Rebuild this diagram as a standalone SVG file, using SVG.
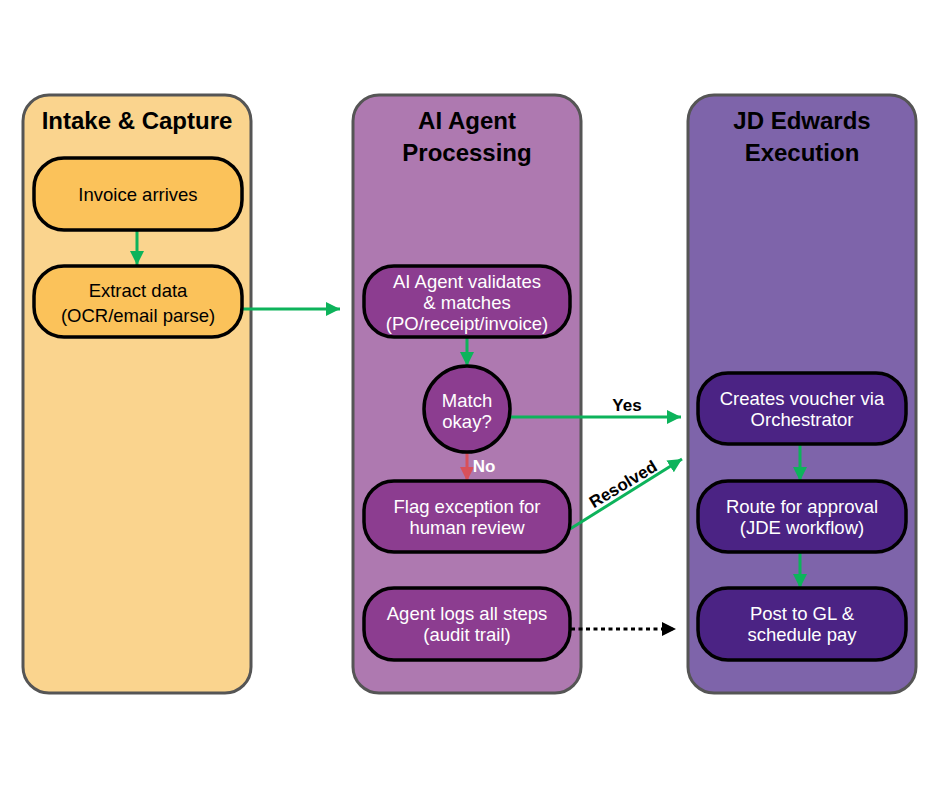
<svg xmlns="http://www.w3.org/2000/svg" width="940" height="788" viewBox="0 0 940 788">
<defs>
<marker id="ag" markerUnits="userSpaceOnUse" markerWidth="16" markerHeight="16" refX="14" refY="8" orient="auto"><path d="M0,1 L14,8 L0,15 Z" fill="#0DB35B"/></marker>
<marker id="ar" markerUnits="userSpaceOnUse" markerWidth="16" markerHeight="16" refX="14" refY="8" orient="auto"><path d="M0,1 L14,8 L0,15 Z" fill="#D9505A"/></marker>
<marker id="ak" markerUnits="userSpaceOnUse" markerWidth="16" markerHeight="16" refX="14" refY="8" orient="auto"><path d="M0,1 L14,8 L0,15 Z" fill="#000"/></marker>
</defs>
<style>
.lane{stroke:#555;stroke-width:3}
.node{stroke:#000;stroke-width:3.5}
.title{font-family:"Liberation Sans",Arial,sans-serif;font-weight:bold;font-size:24px;fill:#000;text-anchor:middle}
.t{font-family:"Liberation Sans",Arial,sans-serif;font-size:18.5px;text-anchor:middle}
.lbl{font-family:"Liberation Sans",Arial,sans-serif;font-weight:bold;font-size:17px;text-anchor:middle}
.g{stroke:#0DB35B;stroke-width:3;fill:none;marker-end:url(#ag)}
</style>
<rect width="940" height="788" fill="#fff"/>
<g id="lane-intake"><rect class="lane" x="23" y="95" width="228" height="598" rx="26" fill="#FAD48E"/><text class="title" x="137" y="129">Intake &amp; Capture</text></g>
<g id="lane-ai"><rect class="lane" x="353" y="95" width="228" height="598" rx="26" fill="#AE79B0"/><text class="title" x="467" y="129">AI Agent</text><text class="title" x="467" y="161">Processing</text></g>
<g id="lane-jde"><rect class="lane" x="688" y="95" width="228" height="598" rx="26" fill="#7E64AA"/><text class="title" x="802" y="129">JD Edwards</text><text class="title" x="802" y="161">Execution</text></g>

<g id="connectors">
<line class="g" x1="137" y1="230" x2="137" y2="265"/>
<line class="g" x1="242" y1="309" x2="340" y2="309"/>
<line class="g" x1="467" y1="337" x2="467" y2="366"/>
<line class="g" x1="510" y1="417" x2="681" y2="417"/>
<line x1="467" y1="451" x2="467" y2="481" stroke="#D9505A" stroke-width="3" marker-end="url(#ar)"/>
<line class="g" x1="570" y1="529" x2="682" y2="459"/>
<line x1="571" y1="629" x2="676" y2="629" stroke="#000" stroke-width="3" stroke-dasharray="4 3.5" marker-end="url(#ak)"/>
<line class="g" x1="800" y1="445" x2="800" y2="481"/>
<line class="g" x1="800" y1="552" x2="800" y2="588"/>
<text class="lbl" x="627" y="411" fill="#000">Yes</text>
<text class="lbl" x="484" y="472" fill="#fff">No</text>
<text class="lbl" x="623" y="490" fill="#000" transform="rotate(-31 623 484)">Resolved</text>
</g>

<g id="invoice-arrives"><rect class="node" x="34" y="158" width="208" height="72" rx="30" fill="#FBC25A"/><text class="t" x="138" y="200.5" fill="#000">Invoice arrives</text></g>
<g id="extract-data"><rect class="node" x="34" y="266" width="208" height="71" rx="30" fill="#FBC25A"/><text class="t" x="138" y="296.5" fill="#000">Extract data</text><text class="t" x="138" y="321.5" fill="#000">(OCR/email parse)</text></g>

<g id="validate"><rect class="node" x="364" y="266" width="206" height="71" rx="30" fill="#8C3D90"/><text class="t" x="467" y="287.5" fill="#fff">AI Agent validates</text><text class="t" x="467" y="308.5" fill="#fff">&amp; matches</text><text class="t" x="467" y="329.5" fill="#fff">(PO/receipt/invoice)</text></g>
<g id="match"><circle class="node" cx="467" cy="409" r="43" fill="#8C3D90"/><text class="t" x="467" y="406.5" fill="#fff">Match</text><text class="t" x="467" y="427.5" fill="#fff">okay?</text></g>
<g id="flag"><rect class="node" x="364" y="481" width="206" height="71" rx="30" fill="#8C3D90"/><text class="t" x="467" y="512.5" fill="#fff">Flag exception for</text><text class="t" x="467" y="533.5" fill="#fff">human review</text></g>
<g id="logs"><rect class="node" x="364" y="588" width="206" height="72" rx="30" fill="#8C3D90"/><text class="t" x="467" y="619.5" fill="#fff">Agent logs all steps</text><text class="t" x="467" y="640.5" fill="#fff">(audit trail)</text></g>

<g id="voucher"><rect class="node" x="698" y="373" width="208" height="71" rx="30" fill="#4B2384"/><text class="t" x="802" y="404.5" fill="#fff">Creates voucher via</text><text class="t" x="802" y="425.5" fill="#fff">Orchestrator</text></g>
<g id="route"><rect class="node" x="698" y="481" width="208" height="71" rx="30" fill="#4B2384"/><text class="t" x="802" y="512.5" fill="#fff">Route for approval</text><text class="t" x="802" y="533.5" fill="#fff">(JDE workflow)</text></g>
<g id="post"><rect class="node" x="698" y="588" width="208" height="72" rx="30" fill="#4B2384"/><text class="t" x="802" y="619.5" fill="#fff">Post to GL &amp;</text><text class="t" x="802" y="640.5" fill="#fff">schedule pay</text></g>
</svg>
